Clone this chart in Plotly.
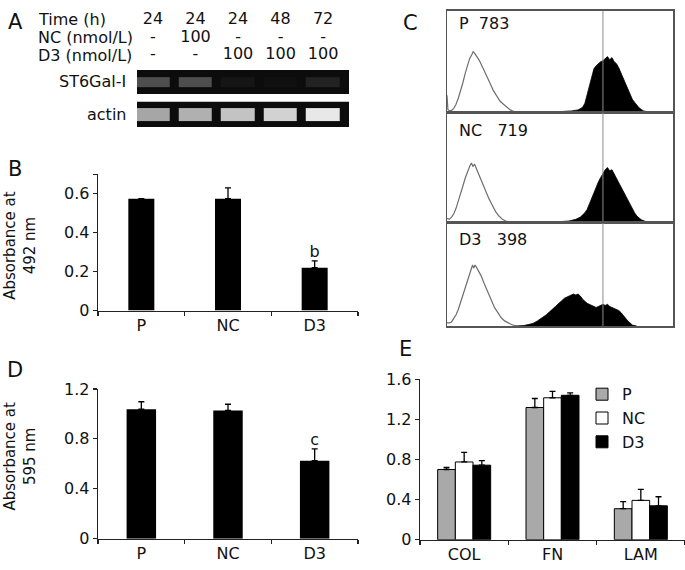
import plotly.graph_objects as go

W, H = 685, 570
FONT = "DejaVu Sans"
INK = "#111111"

# ---------------- Panel A : RT-PCR ----------------
ROW_LABELS = ["Time (h)", "NC (nmol/L)", "D3 (nmol/L)"]
LANE_TIME = ["24", "24", "24", "48", "72"]
LANE_NC = ["-", "100", "-", "-", "-"]
LANE_D3 = ["-", "-", "100", "100", "100"]
GEL_LABELS = ["ST6Gal-I", "actin"]
ST6_BAND = [0.30, 0.30, 0.04, 0.02, 0.10]
ACTIN_BAND = [0.68, 0.72, 0.80, 0.86, 0.95]

# ---------------- Panel B / D ----------------
GROUPS = ["P", "NC", "D3"]
ABS_492 = [0.575, 0.575, 0.22]
ABS_492_ERR = [0.0, 0.055, 0.035]
SIG_492 = ["", "", "b"]
ABS_595 = [1.037, 1.027, 0.625]
ABS_595_ERR = [0.06, 0.05, 0.095]
SIG_595 = ["", "", "c"]

# ---------------- Panel E ----------------
ECM = ["COL", "FN", "LAM"]
ECM_P = [0.70, 1.318, 0.309]
ECM_P_ERR = [0.02, 0.09, 0.07]
ECM_NC = [0.775, 1.415, 0.392]
ECM_NC_ERR = [0.095, 0.064, 0.11]
ECM_D3 = [0.743, 1.44, 0.338]
ECM_D3_ERR = [0.045, 0.023, 0.09]

# ---------------- Panel C : flow cytometry ----------------
FACS_LABELS = ["P", "NC", "D3"]
FACS_MFI = ["783", "719", "398"]
FACS_REF_CH = 69

ISO_P_CH = [0, 0.4, 1, 2, 3, 4, 5, 6, 7, 8, 9, 10, 11, 11.6, 12.3, 13, 13.8, 14.6, 15.5, 16.5,
            17.7, 19, 20.4, 22, 23.5, 25, 26.5, 28, 29.5, 31]
ISO_P_CT = [17, 3, 1.5, 2, 4, 8, 14, 21, 29, 38, 46, 53, 57, 60, 58, 56, 53, 50, 46, 41,
            36, 29, 22, 16, 11, 8, 5, 2.5, 1, 0]
STAIN_P_CH = [44, 48, 52, 55, 58, 60, 61, 62, 63, 64, 65, 66, 67, 68, 69, 70, 71, 72, 73, 74,
              75, 76, 77, 78, 79, 80, 81, 82, 83, 84, 85, 86, 87, 88, 89, 90]
STAIN_P_CT = [0, 0.5, 1, 1.5, 2.5, 5, 9, 18, 28, 37, 43, 46, 48, 50, 51, 53, 55, 52, 54, 50,
              48, 44, 39, 34, 29, 23, 18, 13, 10, 7, 4.5, 3, 1.5, 1, 0.5, 0]

ISO_NC_CH = [0, 1, 2, 3, 4, 5, 6, 7, 8, 9, 10, 10.8, 11.5, 12.2, 13, 14, 15, 16, 17, 18.5,
             20, 21.5, 23, 24.5, 26, 27.5, 29]
ISO_NC_CT = [4, 3, 5, 8, 13, 19, 26, 33, 40, 46, 51, 54, 51, 53, 49, 45, 40, 35, 30, 22,
             16, 10, 6, 3, 1.5, 0.5, 0]
STAIN_NC_CH = [44, 50, 54, 57, 59, 61, 62, 63, 64, 65, 66, 67, 68, 69, 70, 71, 72, 73, 74, 75,
               76, 77, 78, 79, 80, 81, 82, 83, 84, 85, 86, 88, 90, 92]
STAIN_NC_CT = [0, 0.5, 1.5, 3, 5, 9, 12, 17, 22, 28, 33, 37, 41, 45, 48, 50, 47, 48, 44, 41,
               37, 33, 29, 24, 20, 16, 12, 9, 6, 4, 2.5, 1, 0.5, 0]

ISO_D3_CH = [0, 1, 2, 3, 4, 5, 6, 7, 8, 9, 10, 10.7, 11.3, 11.8, 12.4, 13, 14, 15, 16.5, 18,
             19.5, 21, 22.5, 24, 25.5, 27, 28.5, 30, 31]
ISO_D3_CT = [3, 3, 4, 7, 11, 16, 23, 30, 38, 45, 51, 55, 59, 56, 59, 57, 53, 49, 41, 33,
             25, 18, 13, 8, 5, 3, 1.5, 0.5, 0]
STAIN_D3_CH = [30, 34, 36, 38, 40, 42, 44, 46, 48, 50, 52, 54, 55, 56, 57, 58, 59, 60, 62, 64,
               65, 66, 67, 68, 69, 70, 71, 72, 74, 75, 76, 77, 78, 79, 80, 81, 82, 84]
STAIN_D3_CT = [0, 0.5, 1.5, 2.5, 5, 8, 11, 15, 19, 23, 27, 29, 30, 31, 30, 31, 29, 26, 22, 20,
               19, 18, 19, 20, 21, 20, 21, 19, 17, 16, 15, 13, 10, 7, 5, 3, 1, 0]

FACS_ISO = [(ISO_P_CH, ISO_P_CT), (ISO_NC_CH, ISO_NC_CT), (ISO_D3_CH, ISO_D3_CT)]
FACS_STAIN = [(STAIN_P_CH, STAIN_P_CT), (STAIN_NC_CH, STAIN_NC_CT), (STAIN_D3_CH, STAIN_D3_CT)]


# ---------- layout helpers (pixel -> paper domain) ----------
def xd(a, b):
    return [a / W, min(b / W, 1.0)]


def yd(top, bottom):
    return [1 - bottom / H, 1 - top / H]


fig = go.Figure()

# ---------- Panel A ----------
lanes = list(range(len(LANE_TIME)))
for r, vals in enumerate([LANE_TIME, LANE_NC, LANE_D3]):
    fig.add_trace(go.Scatter(x=lanes, y=[r] * len(vals), mode="text", text=vals,
                             textfont=dict(size=16, color=INK, family=FONT),
                             xaxis="x7", yaxis="y7", cliponaxis=False,
                             showlegend=False, hoverinfo="skip"))

gel_scale = [[0, "#0c0c0c"], [0.5, "#7a7a7a"], [1, "#f4f4f4"]]
fig.add_trace(go.Heatmap(z=[ST6_BAND], x=lanes, y=[0], xaxis="x8", yaxis="y8",
                         colorscale=gel_scale, zmin=0, zmax=1, showscale=False,
                         xgap=9, hoverinfo="skip"))
fig.add_trace(go.Heatmap(z=[ACTIN_BAND], x=lanes, y=[0], xaxis="x9", yaxis="y9",
                         colorscale=gel_scale, zmin=0, zmax=1, showscale=False,
                         xgap=9, hoverinfo="skip"))

# ---------- Panel B ----------
fig.add_trace(go.Bar(x=GROUPS, y=ABS_492, width=0.3, marker=dict(color="black", line=dict(width=0)),
                     error_y=dict(type="data", array=ABS_492_ERR, arrayminus=[0] * 3, symmetric=False,
                                  color="black", thickness=1.3, width=3),
                     xaxis="x", yaxis="y", showlegend=False, hoverinfo="skip"))
fig.add_trace(go.Scatter(x=GROUPS, y=[v + e for v, e in zip(ABS_492, ABS_492_ERR)], mode="text",
                         text=SIG_492, textposition="top center",
                         textfont=dict(size=16, color=INK, family=FONT),
                         xaxis="x", yaxis="y", showlegend=False, hoverinfo="skip", cliponaxis=False))

# ---------- Panel D ----------
fig.add_trace(go.Bar(x=GROUPS, y=ABS_595, width=0.34, marker=dict(color="black", line=dict(width=0)),
                     error_y=dict(type="data", array=ABS_595_ERR, arrayminus=[0] * 3, symmetric=False,
                                  color="black", thickness=1.3, width=3),
                     xaxis="x2", yaxis="y2", showlegend=False, hoverinfo="skip"))
fig.add_trace(go.Scatter(x=GROUPS, y=[v + e for v, e in zip(ABS_595, ABS_595_ERR)], mode="text",
                         text=SIG_595, textposition="top center",
                         textfont=dict(size=16, color=INK, family=FONT),
                         xaxis="x2", yaxis="y2", showlegend=False, hoverinfo="skip", cliponaxis=False))

# ---------- Panel E ----------
for name, vals, errs, col in [("P", ECM_P, ECM_P_ERR, "#a9a9a9"),
                              ("NC", ECM_NC, ECM_NC_ERR, "#ffffff"),
                              ("D3", ECM_D3, ECM_D3_ERR, "#000000")]:
    fig.add_trace(go.Bar(x=ECM, y=vals, name=name,
                         marker=dict(color=col, line=dict(color="black", width=1)),
                         error_y=dict(type="data", array=errs, arrayminus=[0] * 3, symmetric=False,
                                      color="black", thickness=1.3, width=3),
                         xaxis="x3", yaxis="y3", hoverinfo="skip"))

# ---------- Panel C ----------
for i in range(3):
    ax = str(4 + i)
    ich, ict = FACS_ISO[i]
    sch, sct = FACS_STAIN[i]
    fig.add_trace(go.Scatter(x=sch, y=sct, mode="lines", fill="tozeroy", fillcolor="black",
                             line=dict(color="black", width=0.8),
                             xaxis="x" + ax, yaxis="y" + ax, showlegend=False, hoverinfo="skip"))
    fig.add_trace(go.Scatter(x=ich, y=ict, mode="lines", line=dict(color="#6e6e6e", width=1.2),
                             xaxis="x" + ax, yaxis="y" + ax, showlegend=False, hoverinfo="skip"))
    fig.add_trace(go.Scatter(x=[FACS_REF_CH, FACS_REF_CH], y=[0, 100], mode="lines",
                             line=dict(color="#8c8c8c", width=1),
                             xaxis="x" + ax, yaxis="y" + ax, showlegend=False, hoverinfo="skip"))

# ---------- axes ----------
tickfont = dict(size=16, color=INK, family=FONT)
bar_axis = dict(showline=True, linecolor="#222", linewidth=1.3, ticks="outside", ticklen=4,
                tickwidth=1.3, tickcolor="#222", showgrid=False, zeroline=False, tickfont=tickfont,
                fixedrange=True)
cat_axis = dict(bar_axis, type="category", tickson="boundaries", range=[-0.5, 2.5])

facs_axis = dict(showline=True, mirror=True, linecolor="#555", linewidth=1.5, showticklabels=False,
                 ticks="", showgrid=False, zeroline=False, range=[0, 100], fixedrange=True)
hidden = dict(visible=False, showgrid=False, zeroline=False, fixedrange=True)

lane_range = [-0.376, 4.61]
layout = dict(
    width=W, height=H, margin=dict(l=0, r=0, t=0, b=0),
    paper_bgcolor="white", plot_bgcolor="white",
    font=dict(family=FONT, size=16, color=INK),
    barmode="group", bargap=0.4, bargroupgap=0,
    # B
    xaxis=dict(cat_axis, domain=xd(98, 358), anchor="y"),
    yaxis=dict(bar_axis, domain=yd(171, 312), anchor="x", range=[0, 0.7],
               tickvals=[0, 0.2, 0.4, 0.6, 0.7], ticktext=["0", "0.2", "0.4", "0.6", ""]),
    # D
    xaxis2=dict(cat_axis, domain=xd(98, 358), anchor="y2"),
    yaxis2=dict(bar_axis, domain=yd(393, 548), anchor="x2", range=[0, 1.2],
                tickvals=[0, 0.4, 0.8, 1.2], ticktext=["0", "0.4", "0.8", "1.2"]),
    # E
    xaxis3=dict(cat_axis, domain=xd(420, 685), anchor="y3"),
    yaxis3=dict(bar_axis, domain=yd(383, 549), anchor="x3", range=[0, 1.6],
                tickvals=[0, 0.4, 0.8, 1.2, 1.6], ticktext=["0", "0.4", "0.8", "1.2", "1.6"]),
    # C
    xaxis4=dict(facs_axis, domain=xd(447, 673), anchor="y4"),
    yaxis4=dict(facs_axis, domain=yd(2, 107), anchor="x4"),
    xaxis5=dict(facs_axis, domain=xd(447, 673), anchor="y5"),
    yaxis5=dict(facs_axis, domain=yd(107, 221), anchor="x5"),
    xaxis6=dict(facs_axis, domain=xd(447, 673), anchor="y6"),
    yaxis6=dict(facs_axis, domain=yd(221, 328), anchor="x6"),
    # A table
    xaxis7=dict(hidden, domain=xd(137, 349), range=lane_range, anchor="y7"),
    yaxis7=dict(hidden, domain=yd(1.75, 57.25), range=[2.5, -0.5], anchor="x7"),
    xaxis8=dict(hidden, domain=xd(137, 349), range=lane_range, anchor="y8"),
    yaxis8=dict(hidden, domain=yd(63, 88), range=[-1.25, 1.25], anchor="x8"),
    xaxis9=dict(hidden, domain=xd(137, 349), range=lane_range, anchor="y9"),
    yaxis9=dict(hidden, domain=yd(96, 122), range=[-1, 1], anchor="x9"),
    legend=dict(x=582 / W, y=1 - 381 / H, xanchor="left", yanchor="top",
                font=dict(size=16, color=INK, family=FONT), bgcolor="rgba(0,0,0,0)",
                itemwidth=30, tracegroupgap=0),
    showlegend=True,
)
fig.update_layout(**layout)

# gel backgrounds
for ax in ["8", "9"]:
    fig.add_shape(type="rect", xref="x%s domain" % ax, yref="y%s domain" % ax, x0=0, x1=1, y0=0, y1=1,
                  fillcolor="#0c0c0c", line=dict(width=0), layer="below")

ann = []
# row labels of table
for r, lab in enumerate(ROW_LABELS):
    ann.append(dict(text=lab, xref="paper", x=36 / W, xanchor="left", yref="y7", y=r,
                    yanchor="middle", showarrow=False, font=dict(size=16, color=INK, family=FONT)))
for lab, ay in zip(GEL_LABELS, ["y8", "y9"]):
    ann.append(dict(text=lab, xref="paper", x=128 / W, xanchor="right", yref=ay, y=0,
                    yanchor="middle", showarrow=False, font=dict(size=16, color=INK, family=FONT)))
# facs labels
for i, (lab, mfi) in enumerate(zip(FACS_LABELS, FACS_MFI)):
    ax = str(4 + i)
    ytop = [0.876, 0.833, 0.841][i]
    gap = "&nbsp;&nbsp;" if i == 0 else "&nbsp;&nbsp;&nbsp;"
    ann.append(dict(text=lab + gap + mfi, xref="x%s domain" % ax, x=0.044, xanchor="left",
                    yref="y%s domain" % ax, y=ytop, yanchor="middle", showarrow=False,
                    font=dict(size=16, color=INK, family=FONT)))
# y titles
for txt, cy in [("Absorbance at<br>492 nm", 245), ("Absorbance at<br>595 nm", 463)]:
    ann.append(dict(text=txt, textangle=-90, xref="paper", x=20 / W,
                    yref="paper", y=1 - cy / H, xanchor="center", yanchor="middle", showarrow=False,
                    font=dict(size=15, color=INK, family=FONT)))
# panel letters
for letter, px, py in [("A", 15, 13), ("B", 15, 165), ("C", 410, 15), ("D", 15, 373), ("E", 405, 352)]:
    ann.append(dict(text=letter, xref="paper", x=px / W, yref="paper", y=1 - py / H,
                    xanchor="center", yanchor="middle", showarrow=False,
                    font=dict(size=21, color=INK, family=FONT)))
fig.update_layout(annotations=ann)

fig.write_html("out.html", config={"displayModeBar": False, "staticPlot": True},
               post_script="document.body.style.margin='0';document.body.style.overflow='hidden';")
